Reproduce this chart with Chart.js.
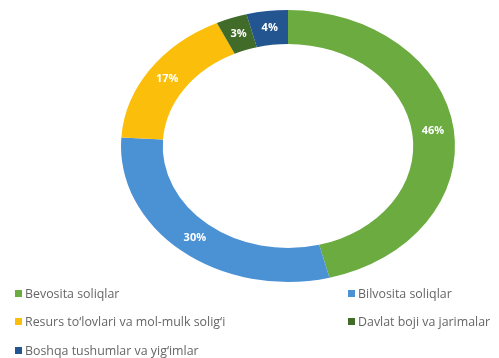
<!DOCTYPE html>
<html>
<head>
<meta charset="utf-8">
<script src="https://cdn.jsdelivr.net/npm/chart.js@4/dist/chart.umd.min.js"></script>
<style>
  html, body { margin: 0; padding: 0; background: #fff; }
  #wrap { position: relative; width: 499px; height: 358px; overflow: hidden; }
  #chart { position: absolute; left: 0; top: 0; }
  .lg { position: absolute; font-family: "Open Sans", "Liberation Sans", sans-serif; font-size: 12.4px; color: #666666; white-space: nowrap; line-height: 14px; }
  .lg i { display: inline-block; width: 7px; height: 7px; margin-right: 3px; vertical-align: 1px; }
</style>
</head>
<body>
<div id="wrap">
  <canvas id="chart" width="499" height="358"></canvas>
  <div id="legend"></div>
</div>
<script>
const categories = [
  "Bevosita soliqlar",
  "Bilvosita soliqlar",
  "Resurs to\u2018lovlari va mol-mulk solig\u2018i",
  "Davlat boji va jarimalar",
  "Boshqa tushumlar va yig\u2018imlar"
];
const shares = [46, 30, 17, 3, 4];
const colors = ["#6bab40", "#4b92d5", "#fbbf0b", "#416b29", "#235590"];

// ellipse: circle of radius 167 squashed vertically
const cy = 146, squash = 136 / 167;

const ellipse = {
  id: "ellipse",
  beforeDatasetsDraw(chart) {
    const ctx = chart.ctx;
    const c = chart.getDatasetMeta(0).data[0];
    ctx.save();
    ctx.translate(0, cy - c.y * squash);
    ctx.scale(1, squash);
  },
  afterDatasetsDraw(chart) {
    const ctx = chart.ctx;
    ctx.restore();
    // percent labels at the middle of each ring segment
    const meta = chart.getDatasetMeta(0);
    ctx.save();
    ctx.font = "bold 11px 'Open Sans', 'Liberation Sans', sans-serif";
    ctx.fillStyle = "#ffffff";
    ctx.textAlign = "center";
    ctx.textBaseline = "middle";
    meta.data.forEach((arc, i) => {
      const p = arc.tooltipPosition();
      const y = cy + (p.y - arc.y) * squash;
      ctx.fillText(shares[i] + "%", p.x, y);
    });
    ctx.restore();
  }
};

new Chart("chart", {
  type: "doughnut",
  data: {
    labels: categories,
    datasets: [{
      data: shares,
      backgroundColor: colors,
      borderWidth: 0
    }]
  },
  options: {
    responsive: false,
    animation: false,
    cutout: "75%",
    layout: { padding: { left: 121, right: 44, top: 0, bottom: 24 } },
    plugins: { legend: { display: false }, tooltip: { enabled: false } }
  },
  plugins: [ellipse]
});

// legend, two columns like the original
const legendPos = [[15, 287], [348, 287], [15, 315], [348, 315], [15, 344]];
const lg = document.getElementById("legend");
categories.forEach((name, i) => {
  const d = document.createElement("div");
  d.className = "lg";
  d.style.left = legendPos[i][0] + "px";
  d.style.top = legendPos[i][1] + "px";
  d.innerHTML = '<i style="background:' + colors[i] + '"></i>' + name;
  lg.appendChild(d);
});
</script>
</body>
</html>
